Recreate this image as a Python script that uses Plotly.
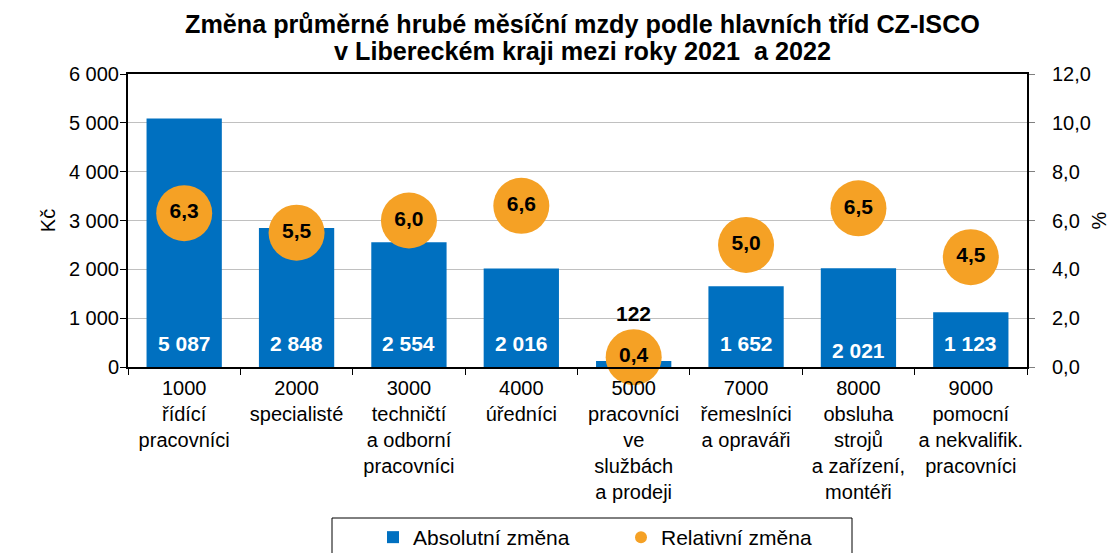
import plotly.graph_objects as go

categories = [
    "1000<br>řídící<br>pracovníci",
    "2000<br>specialisté",
    "3000<br>techničtí<br>a odborní<br>pracovníci",
    "4000<br>úředníci",
    "5000<br>pracovníci<br>ve<br>službách<br>a prodeji",
    "7000<br>řemeslníci<br>a opraváři",
    "8000<br>obsluha<br>strojů<br>a zařízení,<br>montéři",
    "9000<br>pomocní<br>a nekvalifik.<br>pracovníci",
]
absolute_change = [5087, 2848, 2554, 2016, 122, 1652, 2021, 1123]
relative_change = [6.3, 5.5, 6.0, 6.6, 0.4, 5.0, 6.5, 4.5]
title_lines = [
    "Změna průměrné hrubé měsíční mzdy podle hlavních tříd CZ-ISCO",
    "v Libereckém kraji mezi roky 2021 \u00a0a 2022",
]

FONT = "Liberation Sans, Arial, sans-serif"
BLUE = "#0070C0"
ORANGE = "#F5A125"

# plot area in pixels
W, H = 1120, 553
L, R, T, B = 128, 1027, 74, 367
PW, PH = R - L, B - T


def px_x(x):
    return (x - L) / PW


def px_y(y):
    return (B - y) / PH


def fmt_int(v):
    return f"{v:,}".replace(",", " ")


fig = go.Figure()
fig.add_trace(go.Bar(
    x=categories, y=absolute_change, name="Absolutní změna",
    marker=dict(color=BLUE, line=dict(width=0)),
    hoverinfo="y",
))
fig.add_trace(go.Scatter(
    x=categories, y=relative_change, name="Relativní změna", yaxis="y2",
    mode="markers+text",
    marker=dict(color=ORANGE, size=56, line=dict(width=0)),
    text=[f"{v:.1f}".replace(".", ",") for v in relative_change],
    textposition="middle center",
    textfont=dict(family=FONT, size=21, color="black", weight="bold"),
    cliponaxis=False,
))

# bar value labels
for c, v in zip(categories, absolute_change):
    if v >= 500:
        shift = 17 if c.startswith("8000") else 24
        fig.add_annotation(x=c, y=0, yref="y", text=f"<b>{fmt_int(v)}</b>", showarrow=False,
                           yanchor="middle", yshift=shift,
                           font=dict(family=FONT, size=21, color="white"))
    else:
        fig.add_annotation(x=c, y=v, yref="y", text=f"<b>{fmt_int(v)}</b>", showarrow=False,
                           yanchor="middle", yshift=48,
                           font=dict(family=FONT, size=21, color="black"))

# title (two lines, tight spacing)
for i, line in enumerate(title_lines):
    fig.add_annotation(xref="paper", yref="paper", x=px_x(582), y=px_y(24 + 27 * i),
                       text=f"<b>{line}</b>", showarrow=False, xanchor="center", yanchor="middle",
                       font=dict(family=FONT, size=25.2, color="black"))

# legend frame
fig.add_shape(type="rect", xref="paper", yref="paper",
              x0=px_x(332), x1=px_x(852), y0=px_y(518), y1=px_y(570),
              line=dict(color="black", width=1), fillcolor="rgba(0,0,0,0)", layer="above")

fig.update_layout(
    width=W, height=H,
    margin=dict(l=L, r=W - R, t=T, b=H - B, autoexpand=False),
    paper_bgcolor="white", plot_bgcolor="white",
    separators=", ",
    font=dict(family=FONT, size=20, color="black"),
    bargap=0.33,
    showlegend=True,
    legend=dict(
        orientation="h", x=px_x(373), xanchor="left", y=px_y(517), yanchor="top",
        borderwidth=0, bgcolor="rgba(0,0,0,0)", itemsizing="constant",
        entrywidth=203, font=dict(family=FONT, size=21),
        itemclick=False,
    ),
    xaxis=dict(
        range=[-0.5, len(categories) - 0.5],
        showline=True, linecolor="black", linewidth=2, mirror=True,
        ticks="outside", ticklen=6, tickcolor="black", tickson="boundaries",
        tickangle=0, ticklabelstandoff=2,
        tickfont=dict(family=FONT, size=20), showgrid=False, automargin=False,
    ),
    yaxis=dict(
        range=[0, 6000], dtick=1000, tickformat=",.0f",
        showline=True, linecolor="black", linewidth=2,
        ticks="outside", ticklen=6, tickcolor="black", ticklabelstandoff=-3,
        showgrid=True, gridcolor="#C0C0C0", gridwidth=1,
        tickfont=dict(family=FONT, size=20),
        title=dict(text="Kč", font=dict(family=FONT, size=20), standoff=8),
        zeroline=False, automargin=False,
    ),
    yaxis2=dict(
        range=[0, 12], dtick=2, tickformat=".1f", overlaying="y", side="right",
        showline=True, linecolor="black", linewidth=2,
        ticks="outside", ticklen=6, tickcolor="#808080", ticklabelstandoff=13,
        showgrid=False, tickfont=dict(family=FONT, size=20),
        title=dict(text="%", font=dict(family=FONT, size=20), standoff=2),
        zeroline=False, automargin=False,
    ),
)

fig.write_html("out.html", config={"displayModeBar": False},
               post_script="document.body.style.margin='0';")
